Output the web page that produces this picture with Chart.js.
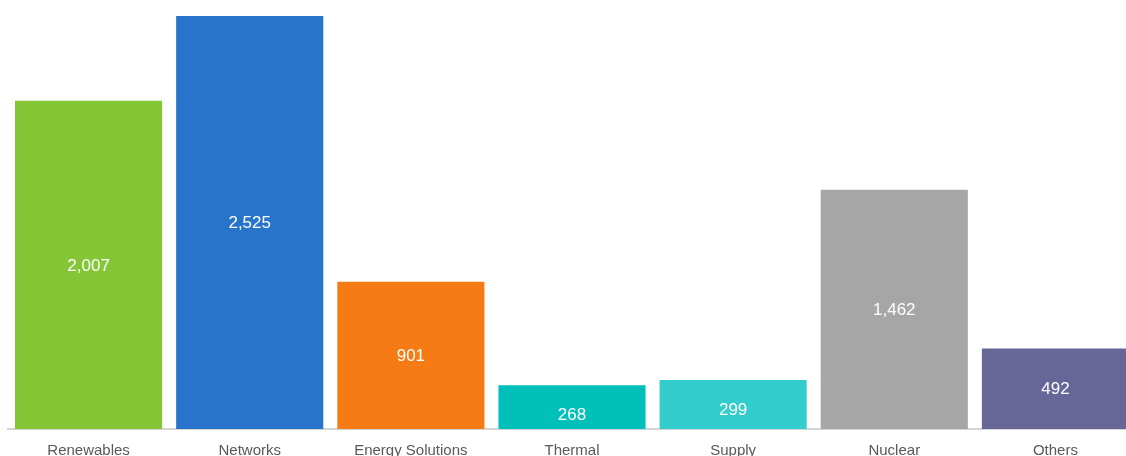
<!DOCTYPE html>
<html>
<head>
<meta charset="utf-8">
<script src="https://cdn.jsdelivr.net/npm/chart.js@4"></script>
<style>
  html, body { margin: 0; padding: 0; background: #fff; overflow: hidden; }
  #wrap { width: 1140px; height: 473px; }
</style>
</head>
<body>
<div id="wrap"><canvas id="segChart" width="1140" height="473"></canvas></div>
<script>
  const segments = ["Renewables", "Networks", "Energy Solutions", "Thermal", "Supply", "Nuclear", "Others"];
  const segmentValues = [2007, 2525, 901, 268, 299, 1462, 492];
  const segmentColors = ["#84c636", "#2873cc", "#f77b14", "#00c0b9", "#33cccc", "#a6a6a6", "#666699"];

  // value labels written in the middle of each bar, pushed down a little on short bars
  const barValues = {
    id: "barValues",
    afterDatasetsDraw(chart) {
      const ctx = chart.ctx;
      const meta = chart.getDatasetMeta(0);
      ctx.save();
      ctx.fillStyle = "#ffffff";
      ctx.font = "17px 'Liberation Sans', Arial, sans-serif";
      ctx.textAlign = "center";
      ctx.textBaseline = "middle";
      meta.data.forEach((bar, i) => {
        const h = bar.base - bar.y;
        const y = (bar.y + bar.base) / 2 + Math.max(0, (58 - h) / 2);
        ctx.fillText(segmentValues[i].toLocaleString("en-US"), bar.x, y + 1);
      });
      ctx.restore();
    },
  };

  new Chart(document.getElementById("segChart"), {
    type: "bar",
    data: {
      labels: segments,
      datasets: [{
        data: segmentValues,
        backgroundColor: segmentColors,
        borderWidth: 0,
        categoryPercentage: 1,
        barPercentage: 0.913,
      }],
    },
    options: {
      responsive: false,
      animation: false,
      devicePixelRatio: 1,
      layout: { padding: { left: 8, right: 4, top: 16, bottom: 0 } },
      plugins: { legend: { display: false }, tooltip: { enabled: false } },
      scales: {
        x: {
          grid: { display: false, drawTicks: false },
          border: { display: true, color: "#d4d4d4", width: 2 },
          ticks: {
            color: "#595959",
            padding: 13,
            font: { family: "'Liberation Sans', Arial, sans-serif", size: 15 },
          },
        },
        y: {
          display: false,
          min: 0,
          max: 2525,
        },
      },
    },
    plugins: [barValues],
  });
</script>
</body>
</html>
